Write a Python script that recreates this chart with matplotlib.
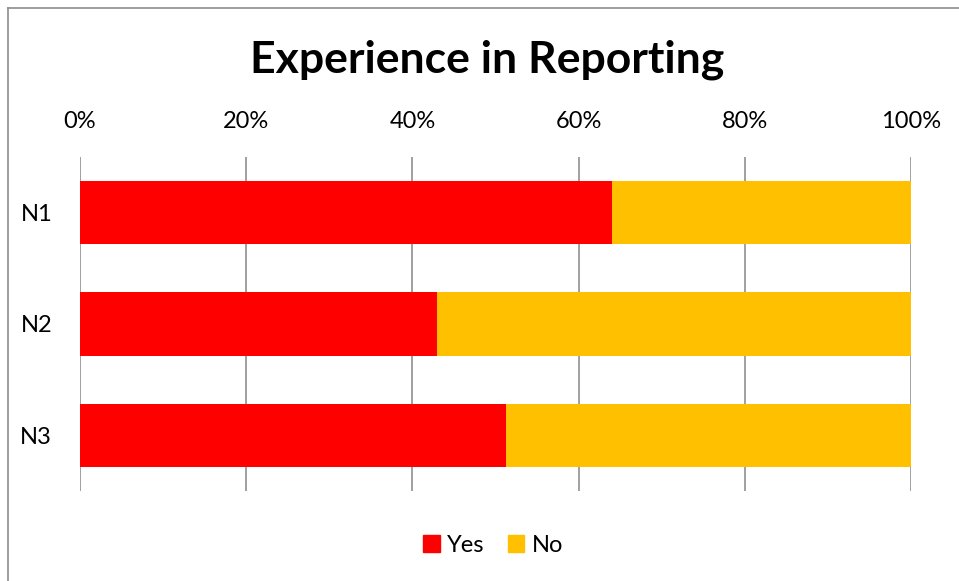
import matplotlib.pyplot as plt
from matplotlib.lines import Line2D
from matplotlib.patches import Patch

# Datos (porcentaje de respuestas por grupo)
groups = ['N1', 'N2', 'N3']
yes_pct = [64, 43, 51.3]
no_pct = [36, 57, 48.7]
ticks = [0, 20, 40, 60, 80, 100]

red = '#FF0000'
orange = '#FFC000'
grid_col = '#868686'

plt.rcParams['font.family'] = ['Lato', 'DejaVu Sans']

W, H = 959, 581
fig = plt.figure(figsize=(W / 100, H / 100), dpi=100)

# Marco del gráfico (solo se ve el borde superior e izquierdo)
fig.add_artist(Line2D([7.5 / W, 7.5 / W], [0, 1 - 7.5 / H], transform=fig.transFigure,
                      color='#8c8c8c', lw=1.2))
fig.add_artist(Line2D([7.5 / W, 1], [1 - 7.5 / H, 1 - 7.5 / H], transform=fig.transFigure,
                      color='#8c8c8c', lw=1.2))

ax = fig.add_axes([80 / W, (H - 491) / H, (911 - 80) / W, (491 - 157) / H])

y = range(len(groups))
ax.barh(y, yes_pct, height=0.57, color=red, label='Yes', zorder=2)
ax.barh(y, no_pct, left=yes_pct, height=0.57, color=orange, label='No', zorder=2)

ax.set_xlim(0, 100)
ax.set_ylim(len(groups) - 0.5, -0.5)
ax.set_yticks(list(y))
ax.set_yticklabels(groups)
ax.set_xticks(ticks)
ax.set_xticklabels([f'{t}%' for t in ticks])
ax.xaxis.tick_top()
ax.tick_params(axis='x', length=0, pad=18, labelsize=17)
ax.tick_params(axis='y', length=0, pad=20, labelsize=17)

for t in ticks:
    ax.axvline(t, color=grid_col, lw=1.1, zorder=1)
for s in ax.spines.values():
    s.set_visible(False)

fig.text(487 / W, 1 - 60 / H, 'Experience in Reporting', ha='center', va='center',
         fontsize=32, fontweight='bold')

handles = [Patch(color=red, label='Yes'), Patch(color=orange, label='No')]
fig.legend(handles=handles, loc='center', bbox_to_anchor=(493 / W, 1 - 545 / H), ncol=2,
           frameon=False, fontsize=17, handlelength=0.7, handleheight=0.7,
           handletextpad=0.3, columnspacing=1.0)

fig.savefig('out.png', dpi=100)
